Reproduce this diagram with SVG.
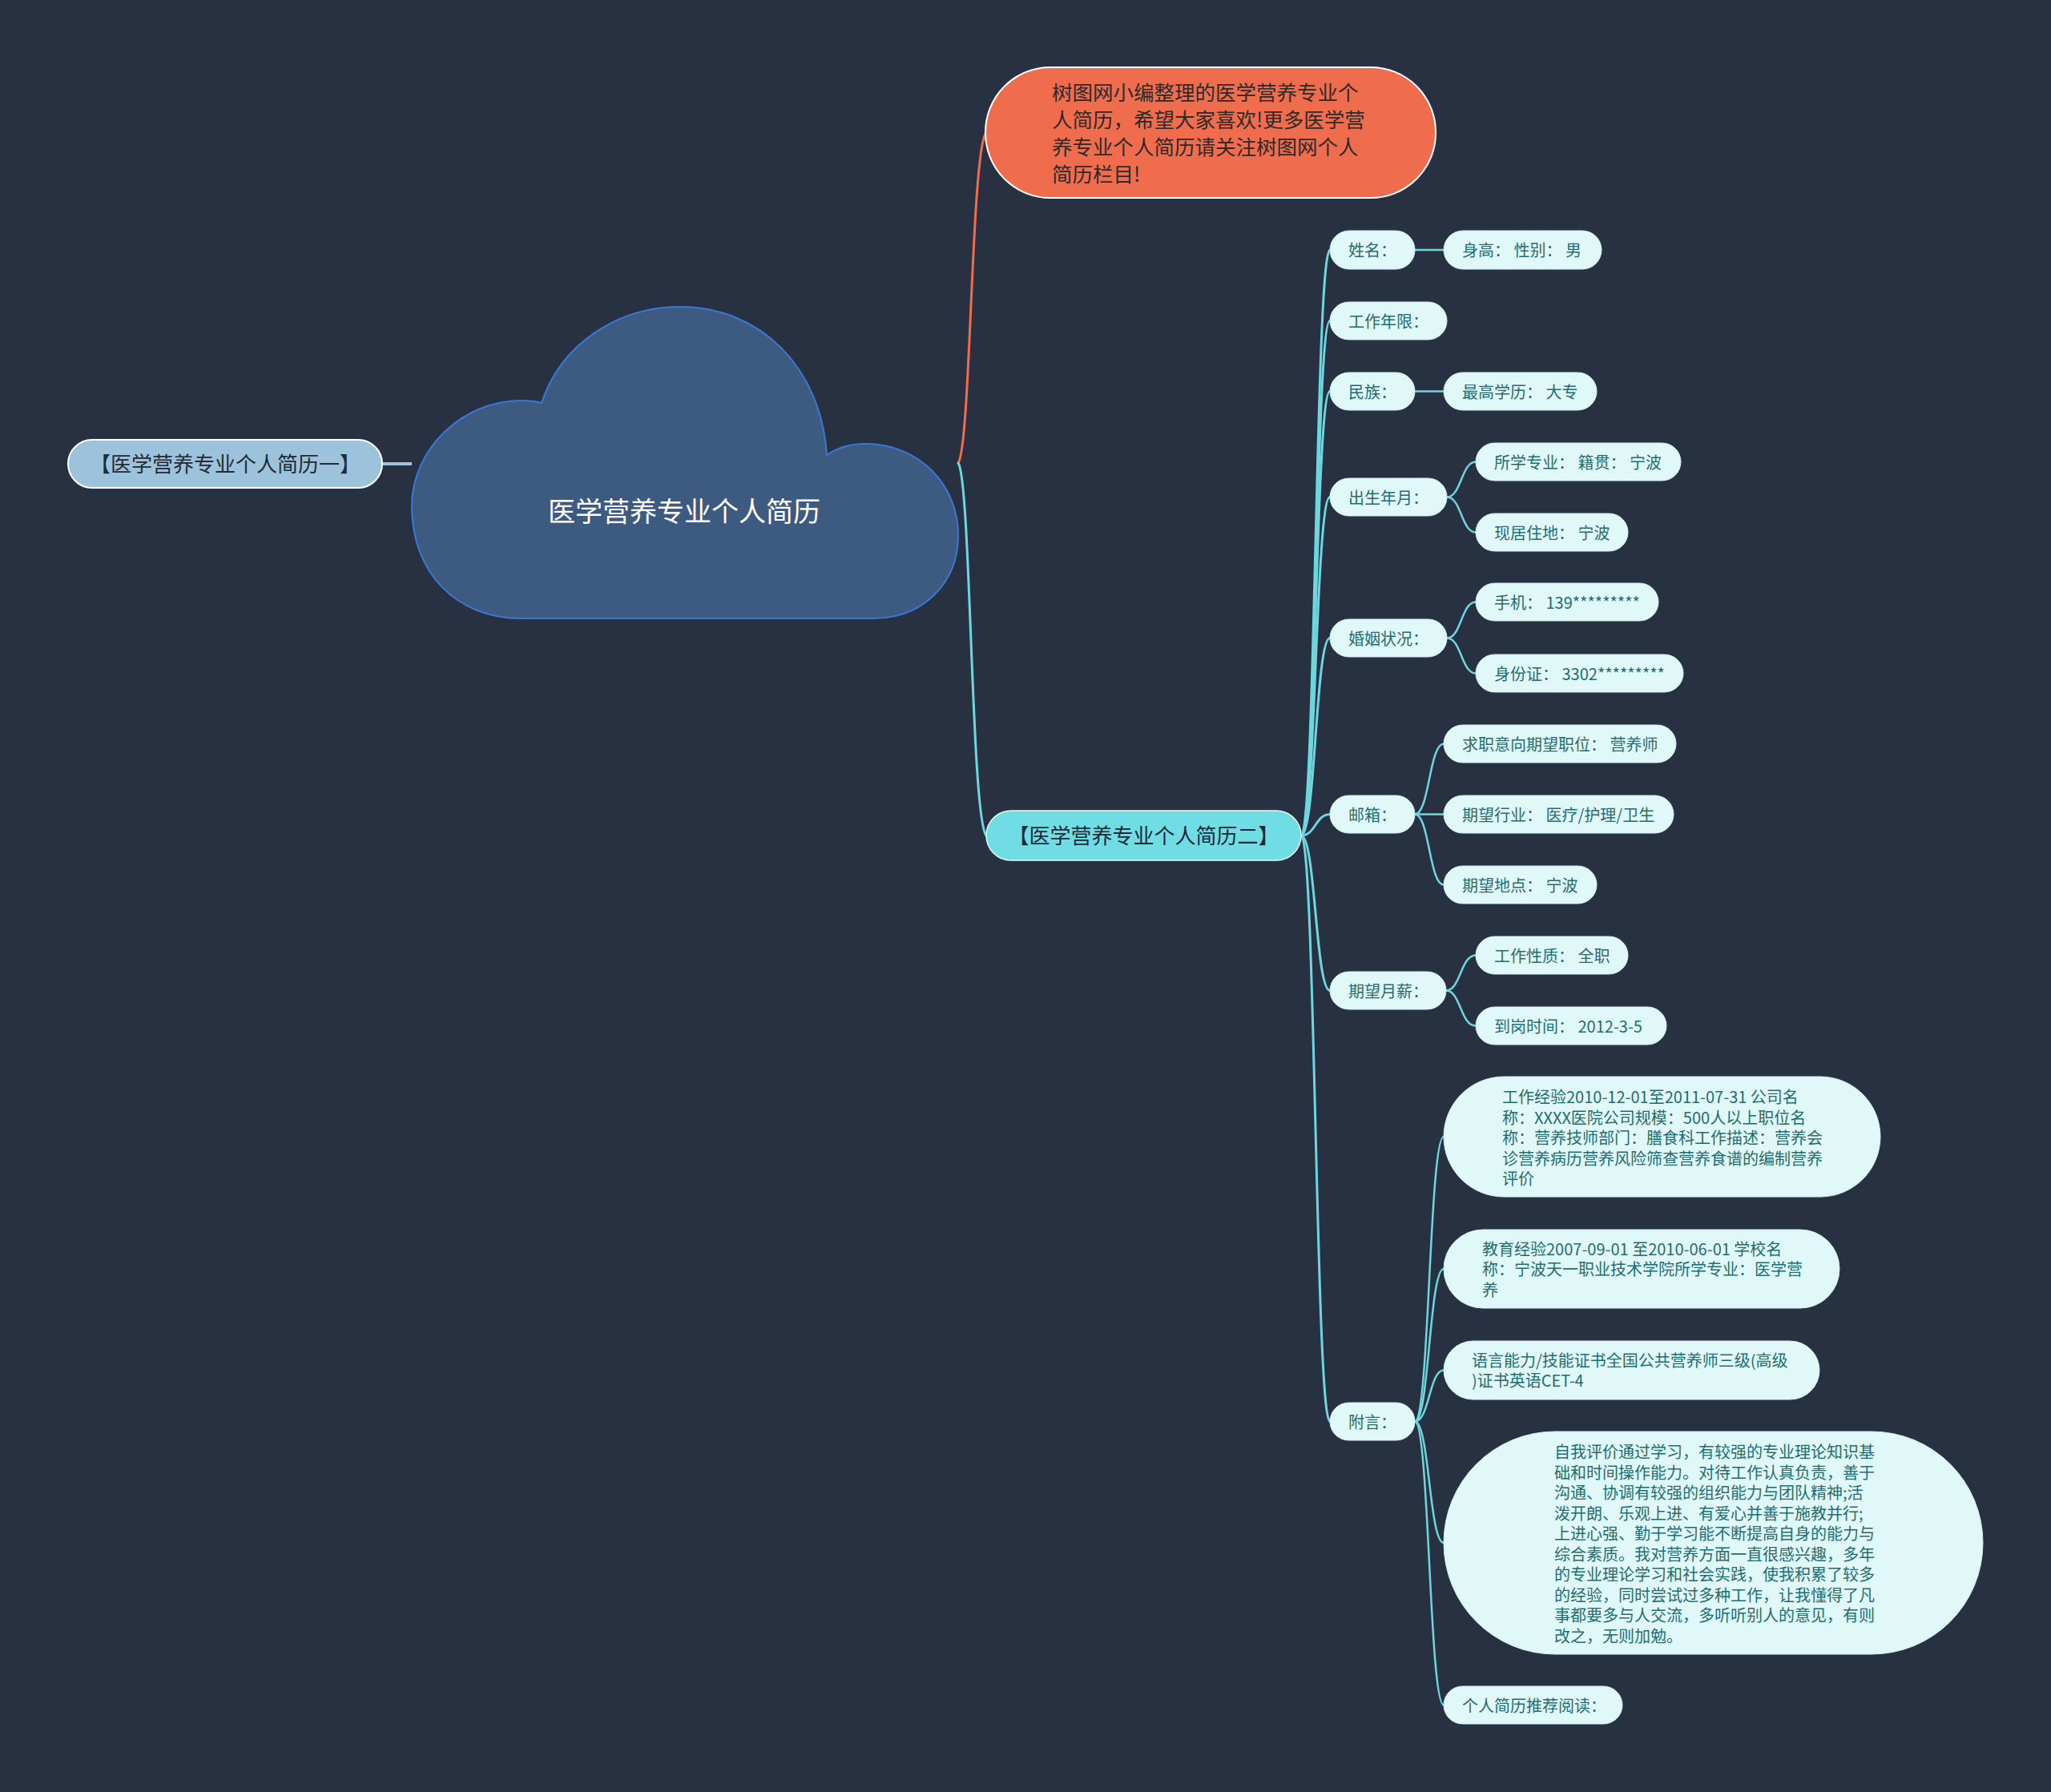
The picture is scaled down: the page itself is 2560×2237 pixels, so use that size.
<svg xmlns="http://www.w3.org/2000/svg" width="2560" height="2237" viewBox="0 0 2560 2237">
<style>
text{font-family:"Noto Sans CJK SC","Noto Sans",sans-serif;}
.bg{fill:#283142;}
.leaf rect{fill:#e1f8f8;stroke:#d2f0f1;stroke-width:1;}
.leaf text{font-size:20px;fill:#1f6d71;}
.c1{fill:none;stroke:#6dd6df;stroke-width:3;stroke-linecap:round;}
.c2{fill:none;stroke:#6dd6df;stroke-width:2.5;stroke-linecap:round;}
</style>
<rect class="bg" x="0" y="0" width="2560" height="2237"/>

<g id="connectors">
  <line x1="477" y1="579" x2="514" y2="579" stroke="#9dc3dc" stroke-width="4"/>
  <path d="M1196,578 C1212,556 1212,188 1231,165" fill="none" stroke="#ef6c4d" stroke-width="3"/>
  <path class="c1" d="M1196,578 C1212,600 1212,1020 1231,1043"/>
  <path class="c1" d="M1624,1043 C1642,1043 1642,312 1660,312"/>
  <path class="c1" d="M1624,1043 C1642,1043 1642,400.5 1660,400.5"/>
  <path class="c1" d="M1624,1043 C1642,1043 1642,488.5 1660,488.5"/>
  <path class="c1" d="M1624,1043 C1642,1043 1642,620.5 1660,620.5"/>
  <path class="c1" d="M1624,1043 C1642,1043 1642,796.5 1660,796.5"/>
  <path class="c1" d="M1624,1043 C1642,1043 1642,1016.5 1660,1016.5"/>
  <path class="c1" d="M1624,1043 C1642,1043 1642,1236.5 1660,1236.5"/>
  <path class="c1" d="M1624,1043 C1642,1043 1642,1774.5 1660,1774.5"/>
  <path class="c2" d="M1766,312 L1802,312"/>
  <path class="c2" d="M1766,488.5 L1802,488.5"/>
  <path class="c2" d="M1806,620.5 C1824,620.5 1824,576.5 1842,576.5"/>
  <path class="c2" d="M1806,620.5 C1824,620.5 1824,664.5 1842,664.5"/>
  <path class="c2" d="M1806,796.5 C1824,796.5 1824,751.5 1842,751.5"/>
  <path class="c2" d="M1806,796.5 C1824,796.5 1824,840.5 1842,840.5"/>
  <path class="c2" d="M1766,1016.5 C1784,1016.5 1784,928.5 1802,928.5"/>
  <path class="c2" d="M1766,1016.5 L1802,1016.5"/>
  <path class="c2" d="M1766,1016.5 C1784,1016.5 1784,1104.5 1802,1104.5"/>
  <path class="c2" d="M1805,1236.5 C1823,1236.5 1823,1192.5 1842,1192.5"/>
  <path class="c2" d="M1805,1236.5 C1823,1236.5 1823,1280.5 1842,1280.5"/>
  <path class="c2" d="M1766,1774.5 C1784,1774.5 1784,1419 1802,1419"/>
  <path class="c2" d="M1766,1774.5 C1784,1774.5 1784,1584 1802,1584"/>
  <path class="c2" d="M1766,1774.5 C1784,1774.5 1784,1710.5 1802,1710.5"/>
  <path class="c2" d="M1766,1774.5 C1784,1774.5 1784,1926 1802,1926"/>
  <path class="c2" d="M1766,1774.5 C1784,1774.5 1784,2128.5 1802,2128.5"/>
</g>

<g id="root">
  <path d="M650,772 C570,772 514,715 514,632 C514,560 578,500 650,500 C662,500 670,501 676,503 C700,430 770,383 849,383 C950,383 1025,460 1032,568 C1045,559 1060,554 1080,554 C1148,554 1196,606 1196,668 C1196,730 1150,772 1090,772 Z" fill="#3d5a80" stroke="#3a78d8" stroke-width="2"/>
  <text x="854" y="651" font-size="34" fill="#ffffff" text-anchor="middle">医学营养专业个人简历</text>
</g>

<g id="n-left">
  <rect x="85" y="549" width="392" height="60" rx="30" fill="#9dc3dc" stroke="#ffffff" stroke-width="2"/>
  <text x="281" y="589" font-size="26" fill="#222a33" text-anchor="middle">【医学营养专业个人简历一】</text>
</g>

<g id="n-intro">
  <rect x="1230" y="84" width="562" height="163" rx="81" fill="#ef6c4d" stroke="#ffffff" stroke-width="2"/>
  <text font-size="25.5" fill="#2e2a2a">
    <tspan x="1313" y="125">树图网小编整理的医学营养专业个</tspan>
    <tspan x="1313" y="159">人简历，希望大家喜欢!更多医学营</tspan>
    <tspan x="1313" y="193">养专业个人简历请关注树图网个人</tspan>
    <tspan x="1313" y="227">简历栏目!</tspan>
  </text>
</g>

<g id="n-two">
  <rect x="1231" y="1012" width="393" height="62" rx="31" fill="#6fdde3" stroke="#e8fbfb" stroke-width="1.5"/>
  <text x="1427.5" y="1053" font-size="26" fill="#1c2a36" text-anchor="middle">【医学营养专业个人简历二】</text>
</g>

<g id="n-name" class="leaf"><rect x="1660" y="288" width="106" height="48" rx="24"/><text x="1683" y="320">姓名：</text></g>
<g id="n-height" class="leaf"><rect x="1802" y="288" width="197" height="48" rx="24"/><text x="1825" y="320">身高： 性别： 男</text></g>
<g id="n-years" class="leaf"><rect x="1660" y="377" width="146" height="47" rx="23.5"/><text x="1683" y="408.5">工作年限：</text></g>
<g id="n-nation" class="leaf"><rect x="1660" y="465" width="106" height="47" rx="23.5"/><text x="1683" y="496.5">民族：</text></g>
<g id="n-edu" class="leaf"><rect x="1802" y="465" width="191" height="47" rx="23.5"/><text x="1825" y="496.5">最高学历： 大专</text></g>
<g id="n-birth" class="leaf"><rect x="1660" y="597" width="146" height="47" rx="23.5"/><text x="1683" y="628.5">出生年月：</text></g>
<g id="n-major" class="leaf"><rect x="1842" y="553" width="256" height="47" rx="23.5"/><text x="1865" y="584.5">所学专业： 籍贯： 宁波</text></g>
<g id="n-live" class="leaf"><rect x="1842" y="641" width="190" height="47" rx="23.5"/><text x="1865" y="672.5">现居住地： 宁波</text></g>
<g id="n-marry" class="leaf"><rect x="1660" y="773" width="146" height="47" rx="23.5"/><text x="1683" y="804.5">婚姻状况：</text></g>
<g id="n-phone" class="leaf"><rect x="1842" y="728" width="228" height="47" rx="23.5"/><text x="1865" y="759.5">手机： 139*********</text></g>
<g id="n-id" class="leaf"><rect x="1842" y="817" width="259" height="47" rx="23.5"/><text x="1865" y="848.5">身份证： 3302*********</text></g>
<g id="n-job" class="leaf"><rect x="1802" y="905" width="290" height="47" rx="23.5"/><text x="1825" y="936.5">求职意向期望职位： 营养师</text></g>
<g id="n-mail" class="leaf"><rect x="1660" y="993" width="106" height="47" rx="23.5"/><text x="1683" y="1024.5">邮箱：</text></g>
<g id="n-industry" class="leaf"><rect x="1802" y="993" width="287" height="47" rx="23.5"/><text x="1825" y="1024.5">期望行业： 医疗/护理/卫生</text></g>
<g id="n-place" class="leaf"><rect x="1802" y="1081" width="191" height="47" rx="23.5"/><text x="1825" y="1112.5">期望地点： 宁波</text></g>
<g id="n-salary" class="leaf"><rect x="1660" y="1213" width="145" height="47" rx="23.5"/><text x="1683" y="1244.5">期望月薪：</text></g>
<g id="n-type" class="leaf"><rect x="1842" y="1169" width="190" height="47" rx="23.5"/><text x="1865" y="1200.5">工作性质： 全职</text></g>
<g id="n-start" class="leaf"><rect x="1842" y="1257" width="238" height="47" rx="23.5"/><text x="1865" y="1288.5">到岗时间： 2012-3-5</text></g>
<g id="n-work" class="leaf"><rect x="1802" y="1344" width="545" height="150" rx="75"/>
  <text><tspan x="1875" y="1377">工作经验2010-12-01至2011-07-31 公司名</tspan><tspan x="1875" y="1402.5">称：XXXX医院公司规模：500人以上职位名</tspan><tspan x="1875" y="1428">称：营养技师部门：膳食科工作描述：营养会</tspan><tspan x="1875" y="1453.5">诊营养病历营养风险筛查营养食谱的编制营养</tspan><tspan x="1875" y="1479">评价</tspan></text></g>
<g id="n-school" class="leaf"><rect x="1802" y="1535" width="494" height="98" rx="49"/>
  <text><tspan x="1850" y="1566.5">教育经验2007-09-01 至2010-06-01 学校名</tspan><tspan x="1850" y="1592">称：宁波天一职业技术学院所学专业：医学营</tspan><tspan x="1850" y="1617.5">养</tspan></text></g>
<g id="n-lang" class="leaf"><rect x="1802" y="1674" width="469" height="73" rx="36.5"/>
  <text><tspan x="1837" y="1705.5">语言能力/技能证书全国公共营养师三级(高级</tspan><tspan x="1837" y="1731">)证书英语CET-4</tspan></text></g>
<g id="n-note" class="leaf"><rect x="1660" y="1751" width="106" height="47" rx="23.5"/><text x="1683" y="1782.5">附言：</text></g>
<g id="n-self" class="leaf"><rect x="1802" y="1787" width="673" height="278" rx="139"/>
  <text><tspan x="1940" y="1820">自我评价通过学习，有较强的专业理论知识基</tspan><tspan x="1940" y="1845.5">础和时间操作能力。对待工作认真负责，善于</tspan><tspan x="1940" y="1871">沟通、协调有较强的组织能力与团队精神;活</tspan><tspan x="1940" y="1896.5">泼开朗、乐观上进、有爱心并善于施教并行;</tspan><tspan x="1940" y="1922">上进心强、勤于学习能不断提高自身的能力与</tspan><tspan x="1940" y="1947.5">综合素质。我对营养方面一直很感兴趣，多年</tspan><tspan x="1940" y="1973">的专业理论学习和社会实践，使我积累了较多</tspan><tspan x="1940" y="1998.5">的经验，同时尝试过多种工作，让我懂得了凡</tspan><tspan x="1940" y="2024">事都要多与人交流，多听听别人的意见，有则</tspan><tspan x="1940" y="2049.5">改之，无则加勉。</tspan></text></g>
<g id="n-read" class="leaf"><rect x="1802" y="2105" width="223" height="47" rx="23.5"/><text x="1825" y="2136.5">个人简历推荐阅读：</text></g>
</svg>
